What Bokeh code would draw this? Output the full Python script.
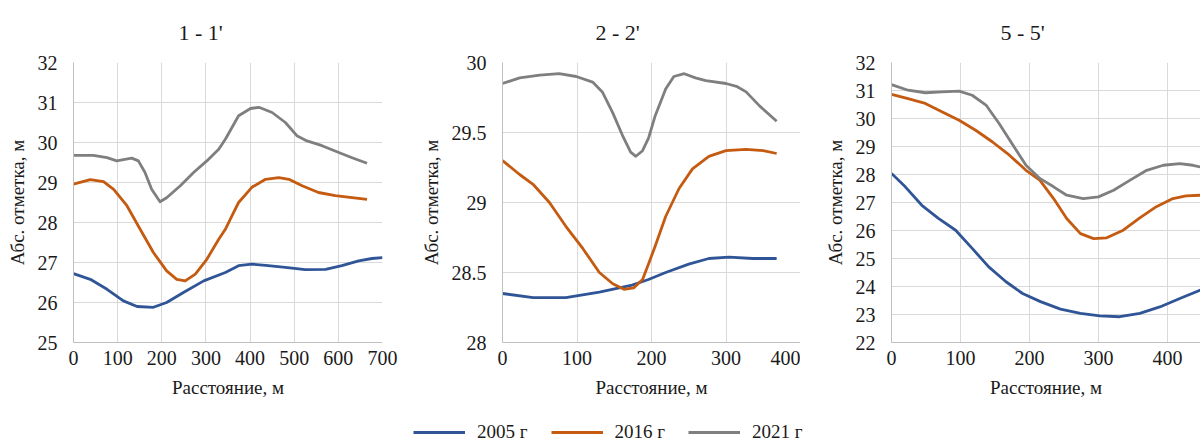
from bokeh.plotting import figure
from bokeh.layouts import row, column
from bokeh.models import SingleIntervalTicker, NumeralTickFormatter, Range1d, Legend, LegendItem
from bokeh.embed import file_html
from bokeh.resources import INLINE

# ---- data ----
titles = ["1 - 1'", "2 - 2'", "5 - 5'"]
series_names = ["2005 г", "2016 г", "2021 г"]
colors = ["#2F5597", "#C55A11", "#7F7F7F"]

p1_x_2005 = [0, 38, 76, 113, 144, 181, 211, 249, 295, 344, 374, 404, 435, 480, 525, 571, 608, 646, 676, 700]
p1_y_2005 = [26.72, 26.58, 26.33, 26.04, 25.9, 25.88, 26.0, 26.25, 26.54, 26.75, 26.92, 26.96, 26.93, 26.88, 26.82, 26.83, 26.92, 27.04, 27.1, 27.12]
p1_x_2016 = [0, 38, 68, 91, 121, 151, 181, 211, 234, 253, 276, 302, 329, 344, 355, 374, 404, 435, 465, 488, 518, 555, 593, 631, 665]
p1_y_2016 = [28.96, 29.07, 29.02, 28.83, 28.42, 27.83, 27.25, 26.79, 26.58, 26.54, 26.71, 27.08, 27.58, 27.83, 28.08, 28.5, 28.88, 29.08, 29.12, 29.08, 28.92, 28.75, 28.67, 28.62, 28.58]
p1_x_2021 = [0, 45, 76, 98, 113, 132, 147, 162, 177, 196, 211, 242, 272, 302, 329, 344, 374, 401, 420, 450, 480, 506, 529, 563, 601, 631, 665]
p1_y_2021 = [29.68, 29.68, 29.62, 29.54, 29.57, 29.61, 29.54, 29.25, 28.83, 28.52, 28.62, 28.92, 29.25, 29.54, 29.83, 30.08, 30.67, 30.85, 30.88, 30.75, 30.5, 30.17, 30.04, 29.92, 29.75, 29.62, 29.48]

p2_x_2005 = [0, 41, 85, 130, 174, 196, 219, 250, 277, 304, 336, 368]
p2_y_2005 = [28.35, 28.32, 28.32, 28.36, 28.41, 28.45, 28.5, 28.56, 28.6, 28.61, 28.6, 28.6]
p2_x_2016 = [0, 23, 41, 63, 85, 108, 130, 148, 163, 176, 188, 196, 205, 219, 237, 255, 277, 300, 327, 350, 368]
p2_y_2016 = [29.3, 29.2, 29.13, 29.0, 28.83, 28.67, 28.5, 28.42, 28.38, 28.39, 28.45, 28.56, 28.69, 28.9, 29.1, 29.24, 29.33, 29.37, 29.38, 29.37, 29.35]
p2_x_2021 = [0, 23, 50, 76, 99, 121, 134, 148, 161, 172, 179, 188, 196, 205, 219, 230, 244, 259, 273, 300, 314, 327, 345, 368]
p2_y_2021 = [29.85, 29.89, 29.91, 29.92, 29.9, 29.86, 29.79, 29.64, 29.48, 29.36, 29.33, 29.37, 29.46, 29.62, 29.81, 29.9, 29.92, 29.89, 29.87, 29.85, 29.83, 29.79, 29.69, 29.58]

p3_x_2005 = [0, 20, 44, 68, 93, 117, 141, 166, 190, 216, 245, 274, 302, 331, 360, 389, 418, 448]
p3_y_2005 = [28.04, 27.56, 26.9, 26.43, 26.01, 25.36, 24.7, 24.17, 23.75, 23.46, 23.19, 23.04, 22.95, 22.92, 23.04, 23.27, 23.57, 23.87]
p3_x_2016 = [0, 24, 49, 73, 98, 122, 146, 171, 195, 215, 235, 254, 274, 293, 312, 336, 360, 384, 408, 427, 448]
p3_y_2016 = [30.86, 30.71, 30.54, 30.24, 29.94, 29.58, 29.17, 28.69, 28.15, 27.8, 27.14, 26.43, 25.89, 25.71, 25.74, 26.01, 26.45, 26.85, 27.14, 27.24, 27.26]
p3_x_2021 = [0, 24, 49, 73, 98, 117, 137, 156, 176, 195, 215, 235, 254, 278, 300, 322, 346, 370, 394, 418, 437, 448]
p3_y_2021 = [31.21, 31.01, 30.92, 30.95, 30.98, 30.83, 30.48, 29.82, 29.05, 28.33, 27.86, 27.56, 27.26, 27.14, 27.2, 27.44, 27.8, 28.15, 28.33, 28.39, 28.33, 28.27]

x_label = "Расстояние, м"
y_label = "Абс. отметка, м"

FONT = "Liberation Serif"
GRID = "#d9d9d9"
TXT = "#1a1a1a"

def make_panel(title, xs, ys, xr, yr, ytick, width, border_left, border_right, title_offset):
    p = figure(width=width, height=410, output_backend="svg", toolbar_location=None,
               x_range=Range1d(*xr), y_range=Range1d(*yr),
               min_border_left=border_left, min_border_right=border_right,
               min_border_top=62, min_border_bottom=68, title=title)
    p.title.text_font = FONT
    p.title.text_font_size = "22px"
    p.title.text_font_style = "normal"
    p.title.text_color = TXT
    p.title.align = "left"
    p.title.offset = title_offset
    p.title.standoff = 35
    p.outline_line_color = None
    p.xaxis.ticker = SingleIntervalTicker(interval=100)
    p.yaxis.ticker = SingleIntervalTicker(interval=ytick)
    p.yaxis.formatter = NumeralTickFormatter(format="0.[0]")
    for ax in (p.xaxis[0], p.yaxis[0]):
        ax.major_tick_in = 0
        ax.major_tick_out = 0
        ax.minor_tick_in = 0
        ax.minor_tick_out = 0
        ax.axis_line_color = "#bfbfbf"
        ax.major_label_text_font = FONT
        ax.major_label_text_font_size = "20px"
        ax.major_label_text_color = TXT
        ax.axis_label_text_font = FONT
        ax.axis_label_text_font_size = "19px"
        ax.axis_label_text_font_style = "normal"
        ax.axis_label_text_color = TXT
        ax.axis_label_standoff = 7
    p.xaxis.axis_label = x_label
    p.yaxis.axis_label = y_label
    p.xaxis.major_label_standoff = 8
    p.xaxis.axis_label_standoff = 9
    p.yaxis.major_label_standoff = 16
    p.xgrid.grid_line_color = GRID
    p.ygrid.grid_line_color = GRID
    for x, y, c in zip(xs, ys, colors):
        p.line(x, y, line_color=c, line_width=2.8, line_join="round")
    return p

p1 = make_panel(titles[0], [p1_x_2005, p1_x_2016, p1_x_2021], [p1_y_2005, p1_y_2016, p1_y_2021],
                (0, 700), (25, 32), 1, 400, 73, 18, 105)
p2 = make_panel(titles[1], [p2_x_2005, p2_x_2016, p2_x_2021], [p2_y_2005, p2_y_2016, p2_y_2021],
                (0, 400), (28, 30), 0.5, 400, 102, 0, 93)
p3 = make_panel(titles[2], [p3_x_2005, p3_x_2016, p3_x_2021], [p3_y_2005, p3_y_2016, p3_y_2021],
                (0, 448), (22, 32), 1, 400, 91, 0, 109)

# legend strip
pl = figure(width=1200, height=33, output_backend="svg", toolbar_location=None,
            x_range=Range1d(0, 1), y_range=Range1d(0, 1),
            min_border=0, min_border_left=0, min_border_right=0, min_border_top=0, min_border_bottom=0)
pl.axis.visible = False
pl.grid.visible = False
pl.outline_line_color = None
items = []
for name, c in zip(series_names, colors):
    r = pl.line([-5, -4], [-5, -4], line_color=c, line_width=2.8)
    items.append(LegendItem(label=name, renderers=[r]))
leg = Legend(items=items, orientation="horizontal", location=(413, 0),
             glyph_width=52, label_standoff=12, spacing=23, padding=0, margin=0,
             border_line_color=None, background_fill_alpha=0,
             label_text_font=FONT, label_text_font_size="19px", label_text_color=TXT)
pl.add_layout(leg, "center")

layout = column(row(p1, p2, p3), pl)
open("out.html", "w").write(file_html(layout, INLINE))
